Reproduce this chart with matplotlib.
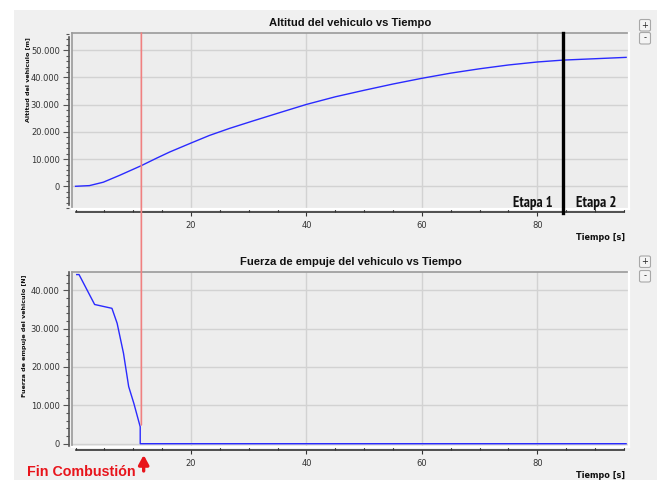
import matplotlib
matplotlib.use("Agg")
import matplotlib.pyplot as plt
from matplotlib import font_manager
from matplotlib.font_manager import FontProperties
from matplotlib.patches import Rectangle, ConnectionPatch, FancyBboxPatch
from matplotlib.lines import Line2D
from matplotlib.ticker import MultipleLocator, FixedLocator, FuncFormatter

# ---------------- data ----------------
t_alt = [0.0, 2.4, 4.8, 7.6, 11.3, 14.0, 16.3, 20.0, 23.2, 26.7, 30.7, 35.4, 40.0,
         45.0, 50.0, 55.0, 60.0, 65.0, 70.0, 75.0, 80.0, 84.5, 90.0, 95.4]
altitude = [0, 250, 1500, 4000, 7500, 10300, 12600, 15900, 18700, 21300, 24000,
            27100, 30100, 32900, 35300, 37600, 39700, 41600, 43200, 44600, 45700,
            46400, 46900, 47400]

t_thr = [0.2, 0.6, 3.3, 6.3, 7.2, 8.3, 9.2, 10.1, 11.2, 11.2, 95.4]
thrust = [44100, 44100, 36300, 35300, 31400, 23600, 14900, 10500, 4400, 0, 0]

t_burnout = 11.4
thrust_marker_end = 4900
t_stage = 84.5

title_alt = "Altitud del vehiculo vs Tiempo"
title_thr = "Fuerza de empuje del vehiculo vs Tiempo"
ylabel_alt = "Altitud del vehiculo [m]"
ylabel_thr = "Fuerza de empuje del vehiculo [N]"
xlabel = "Tiempo [s]"
stage_labels = ["Etapa 1", "Etapa 2"]
burnout_label = "Fin Combustión"
x_major = [20, 40, 60, 80]

# ---------------- narrow font choice ----------------
ttf = font_manager.fontManager.ttflist

def wnum(w):
    if isinstance(w, str):
        return font_manager.weight_dict.get(w, 400)
    return int(w)

def pick_narrow(target_w):
    c = [f for f in ttf if "Narrow" in f.name]
    if not c:
        c = [f for f in ttf if "ondensed" in str(f.stretch) or "Condensed" in f.name]
    c = [f for f in c if f.style == "normal"] or c
    if not c:
        return FontProperties(family=["Liberation Sans", "DejaVu Sans"],
                              weight="bold" if target_w > 500 else "normal")
    c.sort(key=lambda f: abs(wnum(f.weight) - target_w))
    return FontProperties(fname=c[0].fname)

fp_stage = pick_narrow(700)
fp_burn = FontProperties(family=["Liberation Sans", "DejaVu Sans"], weight="bold")

# ---------------- figure ----------------
W, H = 657, 480
fig = plt.figure(figsize=(W / 100, H / 100), dpi=100)
fig.patch.set_facecolor("#f0f0f0")
fig.add_artist(Rectangle((0, 1 - 10 / H), 1, 10 / H, transform=fig.transFigure,
                         facecolor="white", edgecolor="none", zorder=0))
fig.add_artist(Rectangle((0, 0), 14 / W, 1, transform=fig.transFigure,
                         facecolor="white", edgecolor="none", zorder=0))

def px_rect(l, t, r, b):
    return [l / W, 1 - b / H, (r - l) / W, (b - t) / H]

ax1 = fig.add_axes(px_rect(72, 33, 629, 209))
ax2 = fig.add_axes(px_rect(72, 271.7, 629, 447.3))

fmt = FuncFormatter(lambda v, p: "{:,.0f}".format(v).replace(",", "."))

def style(ax, ylim, ybounds, ymax_major):
    ax.set_facecolor("#ededed")
    ax.set_xlim(-0.62, 95.9)
    ax.set_ylim(*ylim)
    for s in ["top", "right"]:
        ax.spines[s].set_visible(False)
    ax.spines["left"].set_position(("outward", 2))
    ax.spines["bottom"].set_position(("outward", 2.3))
    ax.spines["left"].set_color("#555555")
    ax.spines["bottom"].set_color("#333333")
    ax.spines["left"].set_linewidth(1.2)
    ax.spines["bottom"].set_linewidth(1.2)
    ax.spines["left"].set_bounds(*ybounds)
    ax.spines["bottom"].set_bounds(0, 95)
    ax.xaxis.set_major_locator(FixedLocator(x_major))
    ax.xaxis.set_minor_locator(MultipleLocator(5))
    ax.yaxis.set_major_locator(FixedLocator(list(range(0, ymax_major + 1, 10000))))
    ax.yaxis.set_minor_locator(MultipleLocator(2000))
    ax.yaxis.set_major_formatter(fmt)
    ax.tick_params(axis="y", which="major", direction="out", length=4.3, width=0.8,
                   color="#555555", labelsize=6, labelcolor="#333333", pad=2.5)
    ax.tick_params(axis="y", which="minor", direction="out", length=2.2, width=0.8,
                   color="#555555")
    ax.tick_params(axis="x", which="major", direction="out", length=3, width=0.8,
                   color="#333333", labelsize=6, labelcolor="#333333", pad=3)
    ax.tick_params(axis="x", which="minor", direction="in", length=2, width=0.8,
                   color="#333333")
    ax.grid(True, which="major", color="#d2d2d2", lw=1.0)
    ax.set_axisbelow(True)
    ax.add_line(Line2D([0, 1], [1, 1], transform=ax.transAxes, color="#9a9a9a", lw=1.2, clip_on=False))
    ax.add_line(Line2D([0, 0], [0, 1], transform=ax.transAxes, color="#9a9a9a", lw=1.2, clip_on=False))
    ax.add_line(Line2D([1, 1], [0, 1], transform=ax.transAxes, color="white", lw=1.6, clip_on=False))
    ax.add_line(Line2D([0, 1], [0, 0], transform=ax.transAxes, color="white", lw=1.6, clip_on=False))

style(ax1, (-8350, 56360), (-7000, 55000), 50000)
style(ax2, (-940, 44850), (-600, 44850), 40000)

ax1.plot(t_alt, altitude, color="#2a2aff", lw=1.0, zorder=3)
ax2.plot(t_thr, thrust, color="#2a2aff", lw=1.0, zorder=3)

fit = []  # (text, target width in px)

# stage separator and labels
ax1.axvline(t_stage, ymin=-0.025, ymax=1, color="black", lw=2.4, clip_on=False, zorder=4)
s1 = ax1.text(t_stage - 1.9, 0.013, stage_labels[0], transform=ax1.get_xaxis_transform(),
              ha="right", va="baseline", color="#111111", fontproperties=fp_stage, fontsize=10.5)
s2 = ax1.text(t_stage + 2.2, 0.013, stage_labels[1], transform=ax1.get_xaxis_transform(),
              ha="left", va="baseline", color="#111111", fontproperties=fp_stage, fontsize=10.5)
fit += [(s1, 40), (s2, 40.6)]

# burnout marker line across both plots
con = ConnectionPatch(xyA=(t_burnout, 1), coordsA=ax1.get_xaxis_transform(),
                      xyB=(t_burnout, thrust_marker_end), coordsB=ax2.transData,
                      color="#f08080", lw=1.2, zorder=5)
fig.add_artist(con)

# titles
tt1 = ax1.set_title(title_alt, fontsize=8.2, fontweight="bold", pad=5, color="#111111",
                    family=["Liberation Sans", "DejaVu Sans"])
tt2 = ax2.set_title(title_thr, fontsize=8.2, fontweight="bold", pad=5, color="#111111",
                    family=["Liberation Sans", "DejaVu Sans"])
fit += [(tt1, 163), (tt2, 222)]

# y labels (top aligned)
fig.text(27.3 / W, 1 - 37 / H, ylabel_alt, rotation=90, ha="center", va="top",
         fontsize=4.6, fontweight="bold", color="#111111")
fig.text(25 / W, 1 - 275 / H, ylabel_thr, rotation=90, ha="center", va="top",
         fontsize=4.6, fontweight="bold", color="#111111")

# x labels
xl1 = fig.text(625 / W, 1 - 238 / H, xlabel, ha="right", va="center", fontsize=5.9,
               fontweight="bold", color="#111111")
xl2 = fig.text(625 / W, 1 - 475 / H, xlabel, ha="right", va="center", fontsize=5.9,
               fontweight="bold", color="#111111")
fit += [(xl1, 48.7), (xl2, 48.7)]

# burnout annotation
ax2.annotate("", xy=(t_burnout + 0.4, 1 - 455 / H), xycoords=("data", "figure fraction"),
             xytext=(t_burnout + 0.4, 1 - 471 / H), textcoords=("data", "figure fraction"),
             arrowprops=dict(arrowstyle="-|>,head_length=0.55,head_width=0.3",
                             color="#e8141b", lw=2.4, shrinkA=0, shrinkB=0),
             annotation_clip=False)
fb = fig.text(27 / W, 1 - 479.4 / H, burnout_label, ha="left", va="bottom",
              color="#e8141b", fontproperties=fp_burn, fontsize=12.5)
fit += [(fb, 109)]

# size the texts to the widths seen in the reference
renderer = fig.canvas.get_renderer()
for txt, target in fit:
    w = txt.get_window_extent(renderer).width
    if w > 0:
        txt.set_fontsize(txt.get_fontsize() * target / w)

# zoom buttons
for top in (19, 32, 255.5, 270):
    fig.add_artist(FancyBboxPatch((639.5 / W, 1 - (top + 12) / H), 11 / W, 11.5 / H,
                                  boxstyle="round,pad=0,rounding_size=0.003",
                                  transform=fig.transFigure, facecolor="#f4f4f4",
                                  edgecolor="#a8a8a8", lw=0.8))
for top, sym in ((19, "+"), (32, "-"), (255.5, "+"), (270, "-")):
    fig.text(645 / W, 1 - (top + 6) / H, sym, ha="center", va="center", fontsize=6,
             color="#222222")

fig.savefig("out.png", dpi=100, facecolor=fig.get_facecolor())
